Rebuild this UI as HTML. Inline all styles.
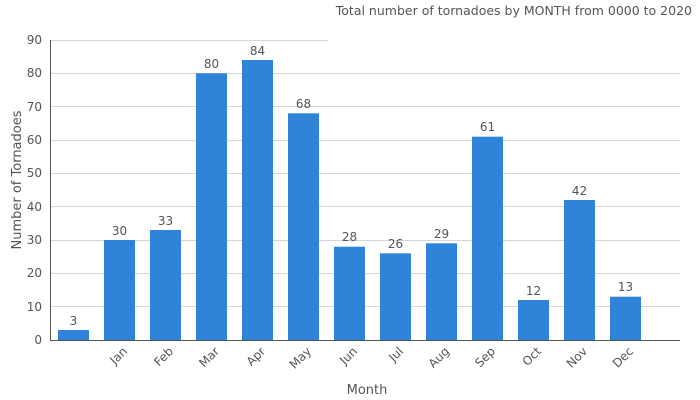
<!DOCTYPE html>
<html><head><style>body{margin:0;background:#fff}svg{display:block}</style></head><body>
<svg width="700" height="400" xmlns="http://www.w3.org/2000/svg" font-family="DejaVu Sans, sans-serif" font-size="12" fill="#555">
<g stroke="#d6d6d6" stroke-width="1">
<line x1="50" x2="328" y1="40.5" y2="40.5"/>
<line x1="50" x2="680" y1="73.5" y2="73.5"/>
<line x1="50" x2="680" y1="106.5" y2="106.5"/>
<line x1="50" x2="680" y1="140.5" y2="140.5"/>
<line x1="50" x2="680" y1="173.5" y2="173.5"/>
<line x1="50" x2="680" y1="206.5" y2="206.5"/>
<line x1="50" x2="680" y1="240.5" y2="240.5"/>
<line x1="50" x2="680" y1="273.5" y2="273.5"/>
<line x1="50" x2="680" y1="306.5" y2="306.5"/>
</g>
<g text-anchor="end">
<text x="42" y="44">90</text><text x="42" y="77">80</text><text x="42" y="111">70</text><text x="42" y="144">60</text><text x="42" y="177">50</text><text x="42" y="211">40</text><text x="42" y="244">30</text><text x="42" y="277">20</text><text x="42" y="311">10</text><text x="42" y="344">0</text>
</g>
<g fill="#2f84d9">
<rect x="58" y="330" width="31" height="10"/>
<rect x="104" y="240" width="31" height="100"/>
<rect x="150" y="230" width="31" height="110"/>
<rect x="196" y="73.3" width="31" height="266.7"/>
<rect x="242" y="60" width="31" height="280"/>
<rect x="288" y="113.3" width="31" height="226.7"/>
<rect x="334" y="246.7" width="31" height="93.3"/>
<rect x="380" y="253.3" width="31" height="86.7"/>
<rect x="426" y="243.3" width="31" height="96.7"/>
<rect x="472" y="136.7" width="31" height="203.3"/>
<rect x="518" y="300" width="31" height="40"/>
<rect x="564" y="200" width="31" height="140"/>
<rect x="610" y="296.7" width="31" height="43.3"/>
</g>
<g text-anchor="middle">
<text x="73.5" y="325">3</text><text x="119.5" y="235">30</text><text x="165.5" y="225">33</text><text x="211.5" y="68">80</text><text x="257.5" y="55">84</text><text x="303.5" y="108">68</text><text x="349.5" y="241">28</text><text x="395.5" y="248">26</text><text x="441.5" y="238">29</text><text x="487.5" y="131">61</text><text x="533.5" y="295">12</text><text x="579.5" y="195">42</text><text x="625.5" y="291">13</text>
</g>
<line x1="50.5" y1="40" x2="50.5" y2="341" stroke="#555"/>
<line x1="50" y1="340.5" x2="680" y2="340.5" stroke="#555"/>
<g text-anchor="end">
<text transform="translate(128,352) rotate(-45)">Jan</text>
<text transform="translate(174,352) rotate(-45)">Feb</text>
<text transform="translate(220,352) rotate(-45)">Mar</text>
<text transform="translate(266,352) rotate(-45)">Apr</text>
<text transform="translate(312,352) rotate(-45)">May</text>
<text transform="translate(358,352) rotate(-45)">Jun</text>
<text transform="translate(404,352) rotate(-45)">Jul</text>
<text transform="translate(450,352) rotate(-45)">Aug</text>
<text transform="translate(496,352) rotate(-45)">Sep</text>
<text transform="translate(542,352) rotate(-45)">Oct</text>
<text transform="translate(588,352) rotate(-45)">Nov</text>
<text transform="translate(634,352) rotate(-45)">Dec</text>
</g>
<text x="367" y="394" text-anchor="middle" font-size="13">Month</text>
<text transform="translate(21,180) rotate(-90)" text-anchor="middle" font-size="13">Number of Tornadoes</text>
<text x="692" y="15" text-anchor="end" font-size="12.5">Total number of tornadoes by MONTH from 0000 to 2020</text>
</svg>
</body></html>
